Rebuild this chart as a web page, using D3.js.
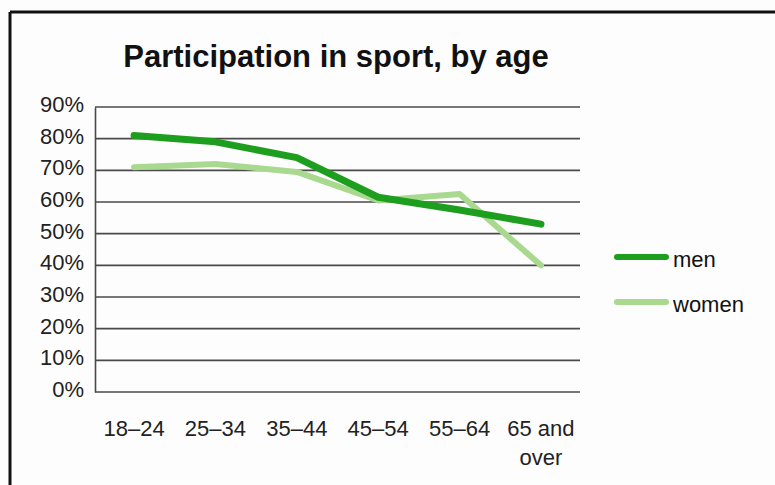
<!DOCTYPE html>
<html>
<head>
<meta charset="utf-8">
<script src="https://cdn.jsdelivr.net/npm/d3@7"></script>
<style>
  body { margin: 0; background: #fdfdfd; }
  svg { display: block; font-family: "Liberation Sans", Arial, sans-serif; }
</style>
</head>
<body>
<div id="chart"></div>
<script>
// data
var ages = ["18–24", "25–34", "35–44", "45–54", "55–64", "65 and over"];
var men = [81, 79, 74, 61.5, 57.5, 53];
var women = [71, 72, 69.5, 60.5, 62.5, 40];
var yTicks = [0, 10, 20, 30, 40, 50, 60, 70, 80, 90];
var seriesNames = ["men", "women"];
var seriesColors = ["#1e9e1e", "#a9d98f"];

var W = 775, H = 485;
var svg = d3.select("#chart").append("svg")
    .attr("width", W)
    .attr("height", H);

// frame (only top and left edges are visible)
svg.append("line").attr("x1", 10).attr("x2", W).attr("y1", 12).attr("y2", 12)
  .attr("stroke", "#111").attr("stroke-width", 3);
svg.append("line").attr("x1", 10).attr("x2", 10).attr("y1", 12).attr("y2", H)
  .attr("stroke", "#111").attr("stroke-width", 3);

// title
svg.append("text")
  .attr("x", 336).attr("y", 67)
  .attr("text-anchor", "middle")
  .style("font-size", "31px")
  .style("font-weight", "bold")
  .attr("fill", "#111")
  .text("Participation in sport, by age");

var plotLeft = 95, plotRight = 580, plotTop = 107, plotBottom = 392;

var x = d3.scalePoint()
  .domain(ages)
  .range([plotLeft, plotRight])
  .padding(0.48);

var y = d3.scaleLinear()
  .domain([0, 90])
  .range([plotBottom, plotTop]);

// grid lines
svg.append("g").selectAll("line")
  .data(yTicks)
  .enter().append("line")
    .attr("x1", plotLeft).attr("x2", plotRight)
    .attr("y1", function(d) { return y(d); })
    .attr("y2", function(d) { return y(d); })
    .attr("stroke", "#4a4a4a")
    .attr("stroke-width", 1.6);

// y axis
var yAxis = svg.append("g")
  .attr("transform", "translate(" + plotLeft + ",0)")
  .call(d3.axisLeft(y).tickValues(yTicks).tickSize(0).tickPadding(11)
    .tickFormat(function(d) { return d + "%"; }));
yAxis.select(".domain").attr("stroke", "#4a4a4a").attr("stroke-width", 1.6);
yAxis.selectAll("text")
  .style("font-size", "22px")
  .style("font-family", "'Liberation Sans', Arial, sans-serif")
  .attr("dy", "0.2em")
  .attr("fill", "#222");

// x axis labels (last one wraps)
var xLab = svg.append("g").selectAll("text")
  .data(ages)
  .enter().append("text")
    .attr("text-anchor", "middle")
    .attr("x", function(d) { return x(d); })
    .attr("y", 436)
    .style("font-size", "22px")
    .attr("fill", "#222");
xLab.each(function(d) {
  var t = d3.select(this);
  if (d === "65 and over") {
    t.append("tspan").attr("x", x(d)).attr("dy", 0).text("65 and");
    t.append("tspan").attr("x", x(d)).attr("dy", 29).text("over");
  } else {
    t.text(d);
  }
});

// lines
var line = d3.line()
  .x(function(d, i) { return x(ages[i]); })
  .y(function(d) { return y(d); });

svg.append("path").datum(women)
  .attr("d", line).attr("fill", "none")
  .attr("stroke", seriesColors[1]).attr("stroke-width", 6)
  .attr("stroke-linejoin", "round").attr("stroke-linecap", "round");
svg.append("path").datum(men)
  .attr("d", line).attr("fill", "none")
  .attr("stroke", seriesColors[0]).attr("stroke-width", 7)
  .attr("stroke-linejoin", "round").attr("stroke-linecap", "round");

// legend
var leg = svg.append("g").selectAll("g")
  .data(seriesNames)
  .enter().append("g")
    .attr("transform", function(d, i) { return "translate(617," + (257 + i * 45) + ")"; });
leg.append("line")
  .attr("x1", 0).attr("x2", 49)
  .attr("stroke", function(d, i) { return seriesColors[i]; })
  .attr("stroke-width", 6)
  .attr("stroke-linecap", "round");
leg.append("text")
  .attr("x", 56).attr("y", 10)
  .style("font-size", "22px")
  .attr("fill", "#111")
  .text(function(d) { return d; });
</script>
</body>
</html>
